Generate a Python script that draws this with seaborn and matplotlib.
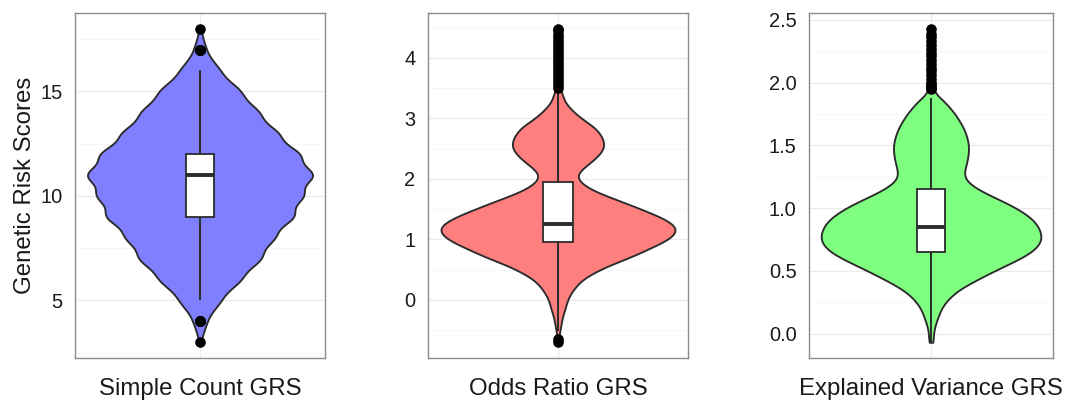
import numpy as np
import pandas as pd
import matplotlib
matplotlib.use("Agg")
import matplotlib.pyplot as plt
from matplotlib.ticker import FixedLocator, AutoMinorLocator, FormatStrFormatter
import seaborn as sns

# ---- data: score values and the number of individuals at each value ----
simple_values = [3, 4, 5, 6, 7, 8, 9, 10, 11, 12, 13, 14, 15, 16, 17, 18]
simple_counts = [1, 8, 25, 50, 75, 90, 115, 125, 140, 122, 95, 72, 50, 24, 7, 1]

odds_values = [-0.70, -0.65, -0.52, -0.45, -0.35, -0.25, -0.15, -0.05,
               0.05, 0.15, 0.25, 0.35, 0.45, 0.55, 0.65, 0.75, 0.85, 0.95,
               1.05, 1.15, 1.25, 1.35, 1.45, 1.55, 1.65, 1.75, 1.85, 1.95,
               2.05, 2.15, 2.25, 2.35, 2.45, 2.55, 2.65, 2.75, 2.85, 2.95,
               3.05, 3.15, 3.25, 3.35, 3.42,
               3.50, 3.55, 3.60, 3.65, 3.70, 3.75, 3.80, 3.85, 3.90, 3.95,
               4.00, 4.05, 4.10, 4.15, 4.20, 4.25, 4.30, 4.35, 4.40, 4.45, 4.48]
odds_counts = [1, 1, 1, 2, 3, 4, 6, 7,
               9, 12, 16, 21, 30, 40, 53, 66, 76, 88,
               96, 100, 97, 88, 76, 63, 50, 36, 25, 18,
               15, 19, 26, 32, 37, 39, 38, 35, 31, 23,
               16, 11, 6, 4, 2,
               1, 1, 1, 1, 1, 1, 1, 1, 1, 1,
               1, 1, 1, 1, 1, 1, 1, 1, 1, 1, 1]

ev_values = [-0.07, -0.05, 0.00, 0.05, 0.10, 0.15, 0.20, 0.25, 0.30, 0.35,
             0.40, 0.45, 0.50, 0.55, 0.60, 0.65, 0.70, 0.75, 0.80, 0.85,
             0.90, 0.95, 1.00, 1.05, 1.10, 1.15, 1.20, 1.25, 1.30, 1.35,
             1.40, 1.45, 1.50, 1.55, 1.60, 1.65, 1.70, 1.75, 1.80, 1.85, 1.88,
             1.95, 1.96, 1.97, 1.99, 2.00, 2.03, 2.06, 2.09, 2.12, 2.15,
             2.18, 2.21, 2.24, 2.27, 2.30, 2.33, 2.36, 2.39, 2.43]
ev_counts = [1, 2, 2, 3, 5, 7, 9, 13, 18, 25,
             35, 46, 57, 69, 81, 91, 97, 100, 99, 97,
             93, 86, 77, 66, 53, 42, 33, 29, 30, 32,
             33, 34, 34, 33, 31, 29, 25, 22, 17, 11, 5,
             1, 1, 1, 1, 1, 1, 1, 1, 1, 1,
             1, 1, 1, 1, 1, 1, 1, 1, 1]

panel_names = ["Simple Count GRS", "Odds Ratio GRS", "Explained Variance GRS"]
panel_values = [simple_values, odds_values, ev_values]
panel_counts = [simple_counts, odds_counts, ev_counts]
panel_ticks = [[5, 10, 15], [0, 1, 2, 3, 4], [0.0, 0.5, 1.0, 1.5, 2.0, 2.5]]
panel_formats = ["%d", "%d", "%.1f"]

# ---- styling ----
fill_colors = ["#7F7FFF", "#FF7F7F", "#7FFF7F"]
kde_bandwidths = [0.5, 0.08, 0.045]
line_color = "#2B2B2B"
text_color = "#1A1A1A"

sns.set_style("white")
plt.rcParams["font.family"] = ["Liberation Sans", "DejaVu Sans"]

W, H = 1066, 403
fig = plt.figure(figsize=(W / 100, H / 100), dpi=100)
fig.patch.set_facecolor("white")

panel_px = [(75, 325), (428, 688), (809, 1053)]
top_px, bottom_px = 13, 358

for i, name in enumerate(panel_names):
    x0, x1 = panel_px[i]
    ax = fig.add_axes([x0 / W, 1 - bottom_px / H, (x1 - x0) / W,
                       (bottom_px - top_px) / H])

    scores = np.repeat(np.asarray(panel_values[i], dtype=float),
                       panel_counts[i])
    df = pd.DataFrame({"grs": name, "score": scores})

    bw_factor = kde_bandwidths[i] / np.std(scores, ddof=1)
    sns.violinplot(data=df, x="grs", y="score", ax=ax,
                   color=fill_colors[i], saturation=1, inner=None, cut=0,
                   width=0.9, bw_method=bw_factor, gridsize=400,
                   linewidth=1.35, linecolor=line_color)

    sns.boxplot(data=df, x="grs", y="score", ax=ax, width=0.115,
                color="white", saturation=1, linecolor=line_color,
                linewidth=1.3, showcaps=False,
                boxprops=dict(facecolor="white", edgecolor=line_color,
                              linewidth=1.3),
                whiskerprops=dict(color=line_color, linewidth=1.4),
                medianprops=dict(color=line_color, linewidth=2.8),
                flierprops=dict(marker="o", markersize=6.6,
                                markerfacecolor="black",
                                markeredgecolor="black", linestyle="none"))

    lo, hi = scores.min(), scores.max()
    pad = 0.05 * (hi - lo)
    ax.set_ylim(lo - pad, hi + pad)
    ax.set_xlim(-0.5, 0.5)

    ax.yaxis.set_major_locator(FixedLocator(panel_ticks[i]))
    ax.yaxis.set_major_formatter(FormatStrFormatter(panel_formats[i]))
    ax.yaxis.set_minor_locator(AutoMinorLocator(2))

    ax.set_axisbelow(True)
    ax.grid(which="major", axis="both", color="#EBEBEB", linewidth=0.9)
    ax.grid(which="minor", axis="y", color="#F7F7F7", linewidth=0.7)

    for sp in ax.spines.values():
        sp.set_visible(True)
        sp.set_color("#8C8C8C")
        sp.set_linewidth(1.0)

    ax.tick_params(axis="both", which="major", length=5.5, width=1.2,
                   color=line_color, labelcolor=text_color)
    ax.tick_params(axis="y", which="major", labelsize=14.4, pad=3.5)
    ax.tick_params(axis="x", which="major", labelsize=17.3, pad=9)
    ax.tick_params(axis="both", which="minor", length=0)

    ax.set_xlabel("")
    if i == 0:
        ax.set_ylabel("Genetic Risk Scores", fontsize=17.3, color=text_color,
                      labelpad=3)
    else:
        ax.set_ylabel("")

fig.savefig("out.png", dpi=100, facecolor="white")
